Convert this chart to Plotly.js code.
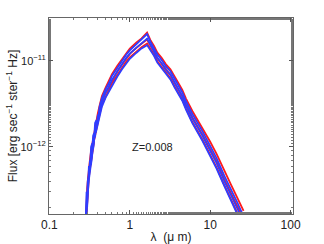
<!DOCTYPE html>
<html><head><meta charset="utf-8">
<script src="https://cdn.plot.ly/plotly-3.0.1.min.js"></script>
<style>html,body{margin:0;padding:0;background:#fff}#chart{width:324px;height:244px}</style>
</head><body><div id="chart"></div>
<script>
// wavelength in micron
const lambda = [0.28,0.285,0.29,0.295,0.30,0.31,0.32,0.33,0.34,0.35,0.36,0.37,0.38,0.40,0.42,0.45,0.50,0.55,0.60,0.70,0.80,0.90,1.0,1.2,1.4,1.64,1.8,2.0,2.2,2.5,2.8,3.2,3.6,4.0,4.5,5.0,6.0,8.0,10,12,15,18,22,26];
// flux in units of 1e-12 erg sec^-1 ster^-1 Hz
const red1 = [0.10,0.18,0.27,0.33,0.40,0.58,0.72,0.90,1.05,1.30,1.55,1.75,2.0,2.45,3.0,3.9,4.9,5.8,7.0,8.8,10.5,12.3,13.9,16.3,18.3,21.4,17.6,15.0,12.5,10.8,9.2,8.0,6.5,5.6,4.6,3.65,2.62,1.68,1.15,0.83,0.52,0.37,0.25,0.18];
const red2 = [0.10,0.15,0.22,0.30,0.34,0.49,0.60,0.74,0.88,1.10,1.30,1.50,1.72,2.08,2.55,3.38,4.25,5.0,6.0,7.6,9.1,10.7,12.1,14.2,15.9,17.8,15.2,13.0,10.8,9.3,7.9,6.9,5.6,4.8,3.9,3.1,2.2,1.40,0.95,0.68,0.42,0.30,0.20,0.145];
const red3 = [0.10,0.13,0.20,0.25,0.31,0.45,0.56,0.66,0.80,0.98,1.20,1.36,1.58,1.92,2.36,3.1,3.9,4.6,5.5,6.9,8.3,9.8,11.0,12.9,14.5,16.0,13.9,11.9,9.9,8.5,7.25,6.3,5.1,4.35,3.55,2.8,1.95,1.22,0.82,0.58,0.36,0.25,0.165,0.12];
const blue1 = [0.10,0.22,0.30,0.20,0.33,0.60,0.55,1.0,1.10,0.95,1.25,1.9,2.0,1.95,2.9,3.7,4.7,5.5,6.7,8.4,10.1,11.8,13.3,15.6,17.5,20.6,16.8,14.3,11.9,10.2,8.7,7.6,6.2,5.3,4.3,3.4,2.42,1.53,1.04,0.74,0.46,0.33,0.22,0.155];
const blue2 = [0.12,0.10,0.21,0.33,0.40,0.46,0.70,0.62,0.85,1.35,1.45,1.30,1.65,2.30,2.50,3.3,4.3,5.0,6.0,7.5,9.2,10.8,12.2,14.3,16.0,18.2,15.3,13.1,10.9,9.3,7.9,6.9,5.6,4.75,3.85,3.05,2.15,1.35,0.92,0.65,0.40,0.28,0.185,0.135];
const blue3 = [0.10,0.14,0.18,0.26,0.29,0.42,0.52,0.70,0.76,0.90,1.12,1.45,1.50,1.82,2.25,2.95,3.75,4.4,5.3,6.6,8.0,9.4,10.6,12.4,14.0,15.3,13.4,11.5,9.6,8.2,7.0,6.1,4.95,4.2,3.45,2.72,1.9,1.18,0.80,0.56,0.35,0.24,0.16,0.115];
const xTickVals = [0.1,1,10,100];
const xTickText = ['0.1','1','10','100'];
const yTickVals = [1e-12,1e-11];
const yTickText = ['10<sup>−12</sup>','10<sup>−11</sup>'];
const label = 'Z=0.008';

const unit = 1e-12;
const toFlux = a => a.map(v => v*unit);
const mk = (arr, color) => ({x: lambda, y: toFlux(arr), type:'scatter', mode:'lines',
  line:{color:color, width:1.8}, hoverinfo:'skip', showlegend:false});
const data = [
  mk(red1,'#ff1a1a'), mk(red2,'#ff1a1a'), mk(red3,'#ff1a1a'),
  mk(blue1,'#2f3cff'), mk(blue2,'#2f3cff'), mk(blue3,'#2f3cff')
];
const font = {family:'Liberation Sans, Arial, sans-serif', size:11, color:'#222'};
const layout = {
  width:324, height:244,
  margin:{l:49, r:31, t:18, b:30},
  paper_bgcolor:'#fff', plot_bgcolor:'#fff',
  font: font,
  xaxis:{type:'log', range:[-1.005, 2.03], tickvals:xTickVals, ticktext:xTickText,
    tickfont:{size:12, color:'#222'},
    ticks:'inside', ticklen:4, tickcolor:'#555', showline:true, linecolor:'#666', linewidth:1,
    mirror:'allticks', showgrid:false, zeroline:false,
    minor:{ticks:'inside', ticklen:2, tickcolor:'#777', showgrid:false},
    title:{text:'λ  (μ m)', font:{size:12, color:'#222'}, standoff:1}},
  yaxis:{type:'log', range:[-12.78, -10.5], tickvals:yTickVals, ticktext:yTickText,
    tickfont:{size:11, color:'#222'},
    ticks:'inside', ticklen:4, tickcolor:'#555', showline:true, linecolor:'#666', linewidth:1,
    mirror:'allticks', showgrid:false, zeroline:false,
    minor:{ticks:'inside', ticklen:2, tickcolor:'#777', showgrid:false},
    title:{text:'Flux [erg sec<sup>−1</sup> ster<sup>−1</sup> Hz]', font:{size:12, color:'#222'}, standoff:0}},
  annotations:[{x:Math.log10(1.9), y:-12.0, xref:'x', yref:'y', text:label, showarrow:false,
    font:{size:11, color:'#222'}}]
};
Plotly.newPlot('chart', data, layout, {staticPlot:true, displayModeBar:false});
</script></body></html>
